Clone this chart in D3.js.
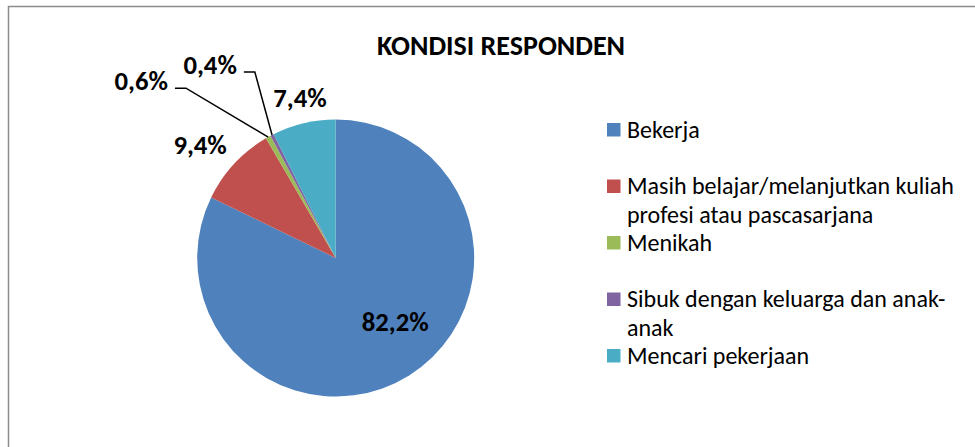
<!DOCTYPE html>
<html>
<head>
<meta charset="utf-8">
<script src="https://cdn.jsdelivr.net/npm/d3@7"></script>
<style>
  body { margin: 0; background: #ffffff; }
  svg { display: block; }
</style>
</head>
<body>
<svg id="chart" width="975" height="447"></svg>
<script>
// Data kategori dan persentase
var kategori = [
    "Bekerja",
    "Masih belajar/melanjutkan kuliah profesi atau pascasarjana",
    "Menikah",
    "Sibuk dengan keluarga dan anak-anak",
    "Mencari pekerjaan"
];
var persen = [82.2, 9.4, 0.6, 0.4, 7.4];
var labelTeks = ["82,2%", "9,4%", "0,6%", "0,4%", "7,4%"];
var warna = ["#4F81BD", "#C0504D", "#9BBB59", "#8064A2", "#4BACC6"];
var judul = "KONDISI RESPONDEN";

var fontUtama = "Calibri, Carlito, 'Open Sans', sans-serif";

var svg = d3.select("#chart");

// Bingkai abu-abu (terpotong di kanan dan bawah)
svg.append("rect")
    .attr("x", 8.5).attr("y", 6.5)
    .attr("width", 1000).attr("height", 500)
    .attr("fill", "#ffffff")
    .attr("stroke", "#8c8c8c")
    .attr("stroke-width", 1.5);

// Judul
svg.append("text")
    .attr("x", 501).attr("y", 55)
    .attr("text-anchor", "middle")
    .style("font-family", fontUtama)
    .style("font-weight", "bold")
    .style("font-size", "28px")
    .text(judul);

// Pie
var cx = 335.7, cy = 258, radius = 138.5;
var pie = d3.pie().sort(null).value(function(d) { return d; });
var arcs = pie(persen);
var arc = d3.arc().innerRadius(0).outerRadius(radius);

var g = svg.append("g").attr("transform", "translate(" + cx + "," + cy + ")");

g.selectAll("path")
    .data(arcs)
    .enter().append("path")
    .attr("d", arc)
    .attr("fill", function(d, i) { return warna[i]; });

// Titik polar (sudut 0 = atas, searah jarum jam)
function polar(a, r) { return [Math.sin(a) * r, -Math.cos(a) * r]; }
function rad(deg) { return deg * Math.PI / 180; }

// Penempatan label: geser sudut (derajat) dan faktor radius
var labelGeser = [-11, -3, 0, 0, 0.7];
var labelFaktor = [0.63, 1.275, 0, 0, 1.18];
// Label dengan garis penunjuk: sudut siku dan faktor radius
var siku = { 2: [318.6, 1.635], 3: [336.5, 1.464] };

arcs.forEach(function(d, i) {
    var mid = (d.startAngle + d.endAngle) / 2;
    if (siku[i]) {
        var tepi = polar(mid, radius);
        var s = polar(rad(siku[i][0]), radius * siku[i][1]);
        var ujung = [s[0] - 11, s[1]];
        g.append("path")
            .attr("d", "M" + tepi + "L" + s + "L" + ujung)
            .attr("fill", "none")
            .attr("stroke", "#000000")
            .attr("stroke-width", 1.5);
        g.append("text")
            .attr("x", ujung[0] - 7).attr("y", ujung[1] + 1.5)
            .attr("text-anchor", "end")
            .style("font-family", fontUtama)
            .style("font-weight", "bold")
            .style("font-size", "26.7px")
            .text(labelTeks[i]);
    } else {
        var p = polar(mid + rad(labelGeser[i]), radius * labelFaktor[i]);
        g.append("text")
            .attr("x", p[0]).attr("y", p[1])
            .attr("dy", "0.33em")
            .attr("text-anchor", "middle")
            .style("font-family", fontUtama)
            .style("font-weight", "bold")
            .style("font-size", "26.7px")
            .text(labelTeks[i]);
    }
});

// Legenda
var legendY = d3.scalePoint().domain(d3.range(kategori.length)).range([129.7, 355.7]);
var legend = svg.append("g");
var lebarMaks = 345;

kategori.forEach(function(nama, i) {
    var y = legendY(i);
    legend.append("rect")
        .attr("x", 607).attr("y", y - 6.7)
        .attr("width", 13.5).attr("height", 13.5)
        .attr("fill", warna[i]);
    var teks = legend.append("text")
        .attr("x", 627).attr("y", y)
        .attr("dy", "0.33em")
        .style("font-family", fontUtama)
        .style("font-size", "24px")
        .style("fill", "#000000");
    // Bungkus teks pada spasi atau tanda hubung
    var kata = nama.split(/(?<=[ -])/);
    var sekarang = "";
    var tspan = teks.append("tspan").attr("x", 627);
    kata.forEach(function(k) {
        var coba = sekarang + k;
        tspan.text(coba.trim());
        if (tspan.node().getComputedTextLength() > lebarMaks && sekarang !== "") {
            tspan.text(sekarang.trim());
            sekarang = k;
            tspan = teks.append("tspan").attr("x", 627).attr("dy", "28.5px").text(k.trim());
        } else {
            sekarang = coba;
        }
    });
});
</script>
</body>
</html>
